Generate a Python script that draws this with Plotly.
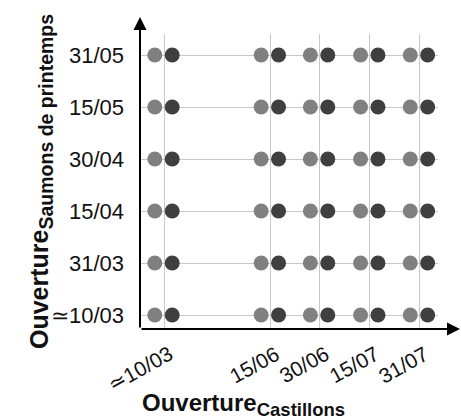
import plotly.graph_objects as go

# ---- data ----
x_labels = ["≃10/03", "15/06", "30/06", "15/07", "31/07"]
x_pos = [0, 2.14, 3.13, 4.14, 5.14]
y_labels = ["≃10/03", "31/03", "15/04", "30/04", "15/05", "31/05"]
light_offset = -0.185
dark_offset = 0.165

FONT = "Liberation Sans, Arial, sans-serif"
LIGHT = "#808080"
DARK = "#3f3f3f"
GRID = "#c8c8c8"

lx, ly, dx, dy = [], [], [], []
for xp in x_pos:
    for yl in y_labels:
        lx.append(xp + light_offset)
        ly.append(yl)
        dx.append(xp + dark_offset)
        dy.append(yl)

fig = go.Figure()
fig.add_trace(go.Scatter(x=lx, y=ly, mode="markers",
                         marker=dict(size=15, color=LIGHT, line=dict(width=0)),
                         showlegend=False, cliponaxis=False, hoverinfo="skip"))
fig.add_trace(go.Scatter(x=dx, y=dy, mode="markers",
                         marker=dict(size=15, color=DARK, line=dict(width=0)),
                         showlegend=False, cliponaxis=False, hoverinfo="skip"))

W, H = 461, 419
L, R, T, B = 140, 23, 34, 90
pw = W - L - R
ph = H - T - B

annotations = []
# x tick labels (rotated)
for xp, lab in zip(x_pos, x_labels):
    annotations.append(dict(
        x=xp, xref="x", y=(329 - 339) / ph, yref="paper",
        text=lab, showarrow=False, textangle=-29,
        xanchor="right", yanchor="top", xshift=16,
        font=dict(family=FONT, size=21, color="#111111")))

# axis arrows
annotations.append(dict(
    x=0, xref="paper", y=(329 - 17) / ph, yref="paper",
    ax=0, ay=312, axref="pixel", ayref="pixel",
    showarrow=True, arrowhead=2, arrowsize=1.3, arrowwidth=2,
    arrowcolor="black", text="", standoff=0))
annotations.append(dict(
    x=(462 - L) / pw, xref="paper", y=0, yref="paper",
    ax=-322, ay=0, axref="pixel", ayref="pixel",
    showarrow=True, arrowhead=2, arrowsize=1.3, arrowwidth=2,
    arrowcolor="black", text="", standoff=0))

# axis titles
annotations.append(dict(
    x=(243 - L) / pw, xref="paper", y=(329 - 404) / ph, yref="paper",
    text="<b>Ouverture<sub><span style='font-size:18.5px'>Castillons</span></sub></b>",
    showarrow=False,
    xanchor="center", yanchor="middle",
    font=dict(family=FONT, size=24, color="#111111")))
annotations.append(dict(
    x=(41 - L) / pw, xref="paper", y=(329 - 182) / ph, yref="paper",
    text="<b>Ouverture<sub><span style='font-size:19.5px'>Saumons de printemps</span></sub></b>",
    showarrow=False,
    textangle=-90, xanchor="center", yanchor="middle",
    font=dict(family=FONT, size=25, color="#111111")))

fig.update_layout(
    width=W, height=H, autosize=False,
    margin=dict(l=L, r=R, t=T, b=B, pad=0),
    paper_bgcolor="white", plot_bgcolor="white",
    font=dict(family=FONT, size=22, color="#111111"),
    hovermode=False,
    xaxis=dict(range=[-0.483, 5.513], tickvals=x_pos, showticklabels=False,
               showgrid=True, gridcolor=GRID, gridwidth=1,
               zeroline=False, showline=False, ticks=""),
    yaxis=dict(type="category", categoryorder="array", categoryarray=y_labels,
               range=[-0.269, 5.404], showgrid=True, gridcolor=GRID, gridwidth=1,
               zeroline=False, showline=False, ticks="", ticklabelstandoff=15,
               tickfont=dict(family=FONT, size=22, color="#111111")),
    annotations=annotations,
)

fig.write_html("out.html", config={"displayModeBar": False},
               post_script="document.body.style.margin='0';document.body.style.overflow='hidden';")
